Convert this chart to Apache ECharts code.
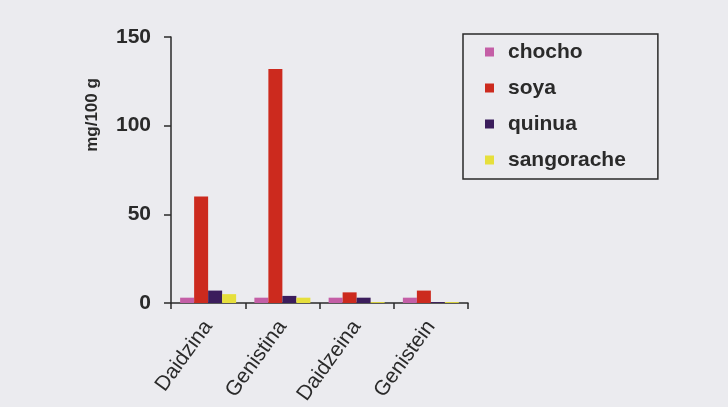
<!DOCTYPE html>
<html>
<head>
<meta charset="utf-8">
<script src="https://cdn.jsdelivr.net/npm/echarts@6/dist/echarts.min.js"></script>
<style>
  html, body { margin: 0; padding: 0; background: #ebebef; }
  #chart { width: 728px; height: 407px; }
</style>
</head>
<body>
<div id="chart"></div>
<script>
// Isoflavone content by compound (mg/100 g)
const categories = ['Daidzina', 'Genistina', 'Daidzeina', 'Genistein'];
const seriesNames = ['chocho', 'soya', 'quinua', 'sangorache'];
const chocho = [3, 3, 3, 3];
const soya = [60, 132, 6, 7];
const quinua = [7, 4, 3, 0.5];
const sangorache = [5, 3, 0.5, 0.5];
const yTicks = [0, 50, 100, 150];

const colors = ['#c45ea6', '#cc2a1e', '#3b1d5c', '#e6df3c'];
const values = [chocho, soya, quinua, sangorache];
const ink = '#2a2a2a';
const font = '"Liberation Sans", Arial, sans-serif';

const chart = echarts.init(document.getElementById('chart'));
chart.setOption({
  backgroundColor: '#ebebef',
  animation: false,
  textStyle: { fontFamily: font },
  grid: { left: 171, right: 260, top: 37, bottom: 104, containLabel: false, outerBoundsMode: 'none' },
  legend: {
    orient: 'vertical',
    left: 463,
    top: 34,
    padding: [7, 32, 8, 22],
    itemGap: 14,
    itemWidth: 9,
    itemHeight: 9,
    icon: 'rect',
    borderColor: ink,
    borderWidth: 1.5,
    textStyle: { fontFamily: font, fontSize: 21, lineHeight: 22, fontWeight: 'bold', color: ink, padding: [0, 0, 0, 9] },
    data: seriesNames
  },
  xAxis: {
    type: 'category',
    data: categories,
    axisLine: { lineStyle: { color: ink, width: 1.5 } },
    axisTick: { show: true, length: 6, lineStyle: { color: ink, width: 1.5 } },
    axisLabel: { rotate: 54, fontFamily: font, fontSize: 21, color: ink, margin: 20 }
  },
  yAxis: {
    type: 'value',
    min: yTicks[0],
    max: yTicks[yTicks.length - 1],
    interval: yTicks[1] - yTicks[0],
    name: 'mg/100 g',
    nameLocation: 'middle',
    nameGap: 70,
    nameRotate: 90,
    nameTextStyle: { fontFamily: font, fontSize: 17, fontWeight: 'bold', color: ink, padding: [0, 0, 0, 110] },
    splitLine: { show: false },
    axisLine: { show: true, lineStyle: { color: ink, width: 1.5 } },
    axisTick: { show: true, length: 7, lineStyle: { color: ink, width: 1.5 } },
    axisLabel: { fontFamily: font, fontSize: 21, fontWeight: 'bold', color: ink, margin: 20 }
  },
  series: seriesNames.map((name, i) => ({
    name: name,
    type: 'bar',
    data: values[i],
    barWidth: 14,
    barGap: '0%',
    itemStyle: { color: colors[i] }
  }))
});
</script>
</body>
</html>
